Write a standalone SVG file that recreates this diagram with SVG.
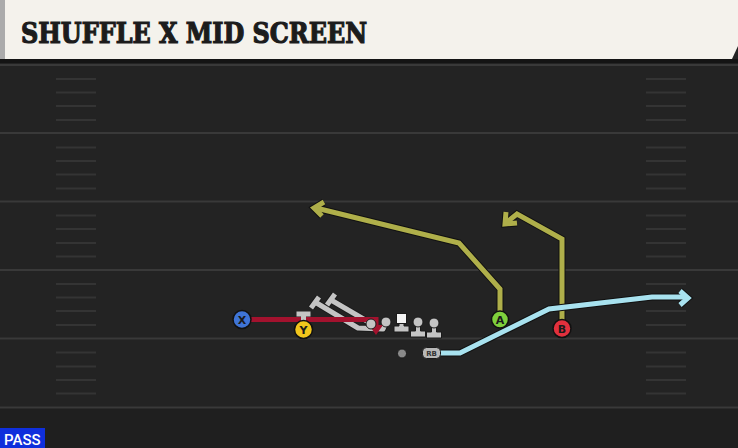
<svg xmlns="http://www.w3.org/2000/svg" width="738" height="448" viewBox="0 0 738 448">
<style>
.yard{stroke:#393939;stroke-width:2}
.hash{stroke:#343434;stroke-width:2}
.out{fill:none;stroke:#111;stroke-width:7;stroke-linejoin:miter;stroke-linecap:butt}
.olive{fill:none;stroke:#afaf4a;stroke-width:5;stroke-linejoin:miter}
.blue{fill:none;stroke:#a8e2ef;stroke-width:5;stroke-linejoin:miter}
.red{fill:none;stroke:#a3122e;stroke-width:5}
.grey{fill:none;stroke:#c4c4c4;stroke-width:5;stroke-linejoin:round}
.gout{fill:none;stroke:#1a1a1a;stroke-width:7;stroke-linejoin:round}
.lbl{font-family:"DejaVu Sans","Liberation Sans",sans-serif;font-weight:bold;font-size:11px;fill:#1a1a1a;text-anchor:middle}
.ol{fill:#c4c4c4;stroke:#1a1a1a;stroke-width:1}
</style>
<rect width="738" height="448" fill="#232323"/>
<rect y="408" width="738" height="40" fill="#1f1f1f"/>
<g id="field">
<line class="yard" x1="0" y1="65" x2="738" y2="65"/>
<line class="yard" x1="0" y1="133" x2="738" y2="133"/>
<line class="yard" x1="0" y1="201.5" x2="738" y2="201.5"/>
<line class="yard" x1="0" y1="270" x2="738" y2="270"/>
<line class="yard" x1="0" y1="338.5" x2="738" y2="338.5"/>
<line class="yard" x1="0" y1="407.5" x2="738" y2="407.5"/>
<g class="hash">
<path d="M56 79H96M56 92.5H96M56 106H96M56 120H96M56 147.5H96M56 161H96M56 174.5H96M56 188.5H96M56 215.5H96M56 229H96M56 243H96M56 256.5H96M56 284H96M56 297.5H96M56 311H96M56 325H96M56 352.5H96M56 366.5H96M56 380H96M56 393.5H96"/>
<path d="M646 79H686M646 92.5H686M646 106H686M646 120H686M646 147.5H686M646 161H686M646 174.5H686M646 188.5H686M646 215.5H686M646 229H686M646 243H686M646 256.5H686M646 284H686M646 297.5H686M646 311H686M646 325H686M646 352.5H686M646 366.5H686M646 380H686M646 393.5H686"/>
</g>
</g>
<g id="header">
<rect x="0" y="59" width="738" height="4" fill="#141414"/>
<path d="M0 0H738V46L732 59H0Z" fill="#f4f2ec"/>
<rect x="0" y="0" width="5" height="59" fill="#ababab"/>
<text x="21" y="43" font-family="'DejaVu Serif','Liberation Serif',serif" font-weight="bold" font-size="27" fill="#1c1c1c" stroke="#1c1c1c" stroke-width="1.2" textLength="346" lengthAdjust="spacingAndGlyphs">SHUFFLE X MID SCREEN</text>
</g>
<g id="connectors">
<!-- A route -->
<path class="out" d="M500 312V289L459 243L316 208"/>
<path class="out" d="M324 202L314 208L322 216"/>
<path class="olive" d="M500 312V289L459 243L316 208"/>
<path class="olive" d="M324 202L314 208L322 216"/>
<!-- B route -->
<path class="out" d="M562 320V239L517 214L507 222"/>
<path class="out" d="M506 212L505 224L517 223"/>
<path class="olive" d="M562 320V239L517 214L507 222"/>
<path class="olive" d="M506 212L505 224L517 223"/>
<!-- RB route -->
<path class="out" d="M438 353H460L549 309L652 297H686"/>
<path class="out" d="M680 291L688 298L680 305"/>
<path class="blue" d="M438 353H460L549 309L652 297H686"/>
<path class="blue" d="M680 291L688 298L680 305"/>
<!-- OL blocks -->
<path class="gout" d="M386 322L383 329L358 328L315 302"/>
<path class="gout" d="M372 324L331 300"/>
<path class="gout" d="M311 308L319 297M327 305L335 294"/>
<path class="grey" d="M386 322L383 329L358 328L315 302"/>
<path class="grey" d="M372 324L331 300"/>
<path class="grey" d="M311 308L319 297M327 305L335 294"/>
<!-- X route -->
<path class="red" d="M250 319.5H376V327"/>
<path d="M369 325L376 335L383 325Z" fill="#a3122e"/>
<!-- Y block -->
<path d="M296.5 314H310.5M303.5 314V322" stroke="#c4c4c4" stroke-width="5"/>
</g>
<g id="LT"><circle class="ol" cx="371" cy="324" r="5"/></g>
<g id="LG"><circle class="ol" cx="386" cy="322" r="5"/></g>
<g id="C">
<path class="ol" d="M399 322h5v4h5v6h-15v-6h5z"/>
<rect x="396.5" y="313.5" width="10" height="10" fill="#f4f4f4" stroke="#1a1a1a"/>
</g>
<g id="RG">
<path class="ol" d="M415.5 323h5v8h5v6h-15v-6h5z"/>
<circle class="ol" cx="418" cy="322" r="5"/>
</g>
<g id="RT">
<path class="ol" d="M431.5 324h5v8h5v6h-15v-6h5z"/>
<circle class="ol" cx="434" cy="323" r="5"/>
</g>
<g id="QB"><circle cx="402" cy="353.5" r="4.5" fill="#8a8a8a" stroke="#1a1a1a"/></g>
<g id="RB">
<rect x="422.5" y="347.5" width="18" height="11" rx="4" fill="#b8b8b8" stroke="#1a1a1a"/>
<text x="431.5" y="356" font-family="'DejaVu Sans','Liberation Sans',sans-serif" font-weight="bold" font-size="7" fill="#333" text-anchor="middle">RB</text>
</g>
<g id="X">
<circle cx="242" cy="319.5" r="9" fill="#3f74d6" stroke="#111" stroke-width="1.5"/>
<text class="lbl" x="242" y="323.5">X</text>
</g>
<g id="Y">
<circle cx="303.5" cy="329.5" r="9" fill="#f1c61c" stroke="#111" stroke-width="1.5"/>
<text class="lbl" x="303.5" y="333.5">Y</text>
</g>
<g id="A">
<circle cx="500" cy="319.5" r="8.5" fill="#7fd03c" stroke="#111" stroke-width="1.5"/>
<text class="lbl" x="500" y="323.5">A</text>
</g>
<g id="B">
<circle cx="562" cy="328.5" r="9" fill="#e2303d" stroke="#111" stroke-width="1.5"/>
<text class="lbl" x="562" y="332.5">B</text>
</g>
<g id="pass">
<rect x="0" y="428" width="45" height="20" fill="#0f2fdc"/>
<text x="4" y="445" font-family="Roboto,'Liberation Sans',sans-serif" font-weight="500" font-size="15" fill="#fff">PASS</text>
</g>
</svg>
